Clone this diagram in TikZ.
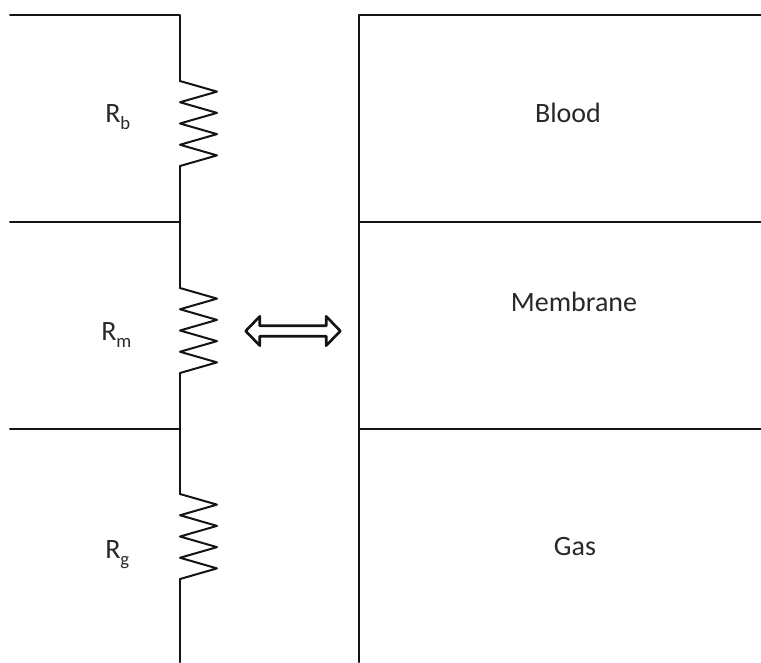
\documentclass[tikz,border=0pt]{standalone}
\usepackage{fontspec}
\setmainfont{Carlito}
\usetikzlibrary{arrows.meta,calc,positioning,shapes.arrows}
\definecolor{lineblack}{RGB}{20,20,20}
\definecolor{textblack}{RGB}{40,40,40}
\newcommand{\ressub}[1]{\raisebox{-5.5pt}{\fontsize{14}{16}\selectfont #1}}
\tikzset{
  wire/.style={lineblack, line width=1.5pt, line cap=round, line join=round},
  layerlabel/.style={font=\fontsize{21}{25}\selectfont, textblack, inner sep=0pt},
  reslabel/.style={font=\fontsize{21}{25}\selectfont, textblack, inner sep=0pt, anchor=base west},
  flowarrow/.style={draw=lineblack, line width=2pt, line join=round, shape=double arrow, inner sep=0pt,
    shape border rotate=0, minimum height=71pt, minimum width=22pt,
    double arrow head extend=1.8pt, double arrow tip angle=92}
}
\begin{document}
\begin{tikzpicture}[x=0.75pt,y=-0.75pt]
\useasboundingbox (0,0) rectangle (761,662);
% Terminals of the left column
\coordinate (topleft) at (10,15);
\coordinate (topjoin) at (180,15);
\coordinate (midleft) at (10,222);
\coordinate (midjoin) at (180,222);
\coordinate (lowleft) at (10,429);
\coordinate (lowjoin) at (180,429);
\coordinate (wireend) at (180,662);
% Resistor ends
\coordinate (rbtop) at (180,81);
\coordinate (rbbot) at (180,166);
\coordinate (rmtop) at (180,288);
\coordinate (rmbot) at (180,373);
\coordinate (rgtop) at (180,494);
\coordinate (rgbot) at (180,579);
% Left column
\draw[wire] (topleft) -- (topjoin) -- (rbtop);
\draw[wire] (rbbot) -- (midjoin) -- (rmtop);
\draw[wire] (rmbot) -- (lowjoin) -- (rgtop);
\draw[wire] (rgbot) -- (wireend);
\draw[wire] (midleft) -- (midjoin);
\draw[wire] (lowleft) -- (lowjoin);
% Zigzags
\foreach \t/\b in {rbtop/rbbot, rmtop/rmbot, rgtop/rgbot} {
  \draw[wire] (\t)
    \foreach \k in {1,3,5,7} {
      -- ($(\t)!\k/8!(\b)+(37,0)$)
      -- ($(\t)!{(\k+1)/8}!(\b)$)
    };
}
% Right column
\coordinate (bartop) at (359,15);
\coordinate (barmid) at (359,222);
\coordinate (barlow) at (359,429);
\coordinate (barend) at (359,662);
\coordinate (topright) at (761,15);
\coordinate (midright) at (761,222);
\coordinate (lowright) at (761,429);
\draw[wire] (bartop) -- (barend);
\draw[wire] (bartop) -- (topright);
\draw[wire] (barmid) -- (midright);
\draw[wire] (barlow) -- (lowright);
% Double arrow
\node[flowarrow] (flow) at (293,331) {};
% Labels
\node[reslabel] (rb) at (105,122) {R\ressub{b}};
\node[reslabel] (rm) at (101,340) {R\ressub{m}};
\node[reslabel] (rg) at (105,558) {R\ressub{g}};
\node[layerlabel] (blood) at (568,113) {Blood};
\node[layerlabel] (membrane) at (574,302) {Membrane};
\node[layerlabel] (gas) at (575,547) {Gas};
\end{tikzpicture}
\end{document}
